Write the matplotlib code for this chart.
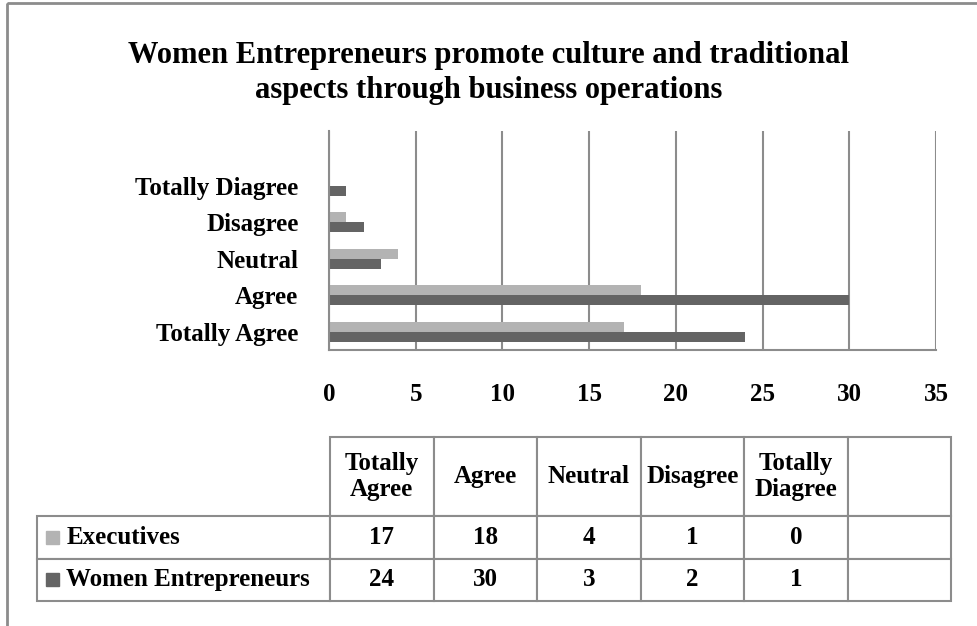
import numpy as np
import matplotlib.pyplot as plt
from matplotlib.table import Table
from matplotlib.patches import Rectangle

# -------------------------------------------
# Data
# -------------------------------------------

categories = ['Totally Agree', 'Agree', 'Neutral', 'Disagree', 'Totally Diagree']
header_labels = ['Totally\nAgree', 'Agree', 'Neutral', 'Disagree', 'Totally\nDiagree', '']
series_names = ['Executives', 'Women Entrepreneurs']
executives = [17, 18, 4, 1, 0]
women_entrepreneurs = [24, 30, 3, 2, 1]
x_ticks = [0, 5, 10, 15, 20, 25, 30, 35]

title = 'Women Entrepreneurs promote culture and traditional\naspects through business operations'

# -------------------------------------------
# Style
# -------------------------------------------

W, H = 978, 626
LIGHT = '#b3b3b3'
DARK = '#646464'
GRID = '#8c8c8c'

plt.rcParams['font.family'] = 'Liberation Serif'
plt.rcParams['font.weight'] = 'bold'


def fx(px):
    return px / W


def fy(py):
    return 1 - py / H


fig = plt.figure(figsize=(W / 100, H / 100), dpi=100)

# --- Bar chart ---
ax = fig.add_axes([fx(329), fy(350), (936 - 329) / W, (350 - 131) / H])
y = np.arange(len(categories))
bar_h = 0.27
ax.barh(y + bar_h / 2, executives, height=bar_h, color=LIGHT, linewidth=0, label=series_names[0])
ax.barh(y - bar_h / 2, women_entrepreneurs, height=bar_h, color=DARK, linewidth=0, label=series_names[1])

ax.set_xlim(0, 35)
ax.set_ylim(-0.5, len(categories) + 0.5)
ax.set_xticks(x_ticks)
ax.set_yticks(y, categories)
ax.xaxis.grid(True, color=GRID, linewidth=1.5)
ax.set_axisbelow(True)
for side in ['top', 'right']:
    ax.spines[side].set_visible(False)
for side in ['left', 'bottom']:
    ax.spines[side].set_color(GRID)
    ax.spines[side].set_linewidth(1.5)
ax.tick_params(axis='x', length=0, pad=24, labelsize=18)
ax.tick_params(axis='y', length=0, pad=22, labelsize=18)

# --- Title ---
fig.text(0.5, fy(73), title, ha='center', va='center', fontsize=22,
         fontweight='bold', linespacing=1.3)

# --- Data table ---
tax = fig.add_axes([0, 0, 1, 1])
tax.set_axis_off()
tax.set_xlim(0, W)
tax.set_ylim(H, 0)

# bbox covers the value grid only; the row-label column sits to its left
tbl = Table(tax, bbox=[fx(330), fy(601), (951 - 330) / W, (601 - 437) / H])
tbl.auto_set_font_size(False)
lab_w, col_w = 293 / W, 103.5 / W
head_h, row_h = 79 / H, 42.5 / H


def style(cell):
    cell.set_edgecolor(GRID)
    cell.set_linewidth(1.5)
    cell.get_text().set_fontsize(18)
    cell.get_text().set_fontweight('bold')


for j, lab in enumerate(header_labels):
    style(tbl.add_cell(0, j, col_w, head_h, text=lab, loc='center'))

rows = [executives, women_entrepreneurs]
for i, (name, vals) in enumerate(zip(series_names, rows), start=1):
    style(tbl.add_cell(i, -1, lab_w, row_h, text=name, loc='left'))
    for j in range(len(header_labels)):
        txt = str(vals[j]) if j < len(vals) else ''
        style(tbl.add_cell(i, j, col_w, row_h, text=txt, loc='center'))
tax.add_table(tbl)

# legend keys in the row-label cells
for cy, col in [((516 + 558) / 2, LIGHT), ((558 + 601) / 2, DARK)]:
    tax.add_patch(Rectangle((46, cy - 6.5), 13, 13, color=col, zorder=5))

# chart-area border (cut off at right and bottom)
tax.add_patch(Rectangle((7, 3), 1100, 800, fill=False, edgecolor=GRID, linewidth=2))

fig.savefig('out.png', dpi=100)
